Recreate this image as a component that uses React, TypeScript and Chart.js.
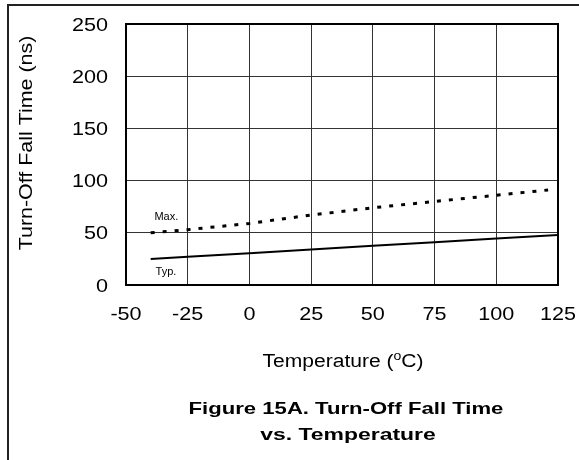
import React, { useEffect, useRef } from "react";
import { Chart, registerables } from "chart.js";

Chart.register(...registerables);

const typTemperatures = [-40, -25, 0, 25, 50, 75, 100, 125];
const typFallTime = [25, 27, 30.5, 34, 37.5, 41, 44.5, 48];
const maxTemperatures = [-40, -25, 0, 25, 50, 75, 100, 121];
const maxFallTime = [50, 53, 59, 67, 74, 80, 86, 91];
const xTickValues = [-50, -25, 0, 25, 50, 75, 100, 125];
const yTickValues = [0, 50, 100, 150, 200, 250];
const seriesNames = ["Max.", "Typ."];
const yAxisTitle = "Turn-Off Fall Time (ns)";
const xAxisTitleParts = ["Temperature (", "o", "C)"];
const captionLines = ["Figure 15A. Turn-Off Fall Time", "vs. Temperature"];

const FONT = '"Liberation Sans", Arial, Helvetica, sans-serif';

// draw text stretched horizontally by sx, anchored at (x, y)
function drawStretched(
  ctx: any,
  text: string,
  x: number,
  y: number,
  font: string,
  sx: number,
  align: "left" | "center" | "right",
  baseline: "alphabetic" | "middle" = "alphabetic",
  rotate = 0
) {
  ctx.save();
  ctx.translate(x, y);
  if (rotate) ctx.rotate(rotate);
  ctx.scale(sx, 1);
  ctx.font = font;
  ctx.textAlign = align;
  ctx.textBaseline = baseline;
  ctx.fillStyle = "#000";
  ctx.fillText(text, 0, 0);
  ctx.restore();
}

const textPlugin = {
  id: "customTexts",
  afterDraw(chart: any) {
    const ctx = chart.ctx;
    const area = chart.chartArea;
    const xs = chart.scales.x;
    const ys = chart.scales.y;

    // plot frame
    ctx.save();
    ctx.strokeStyle = "#000";
    ctx.lineWidth = 2;
    ctx.strokeRect(area.left, area.top, area.right - area.left, area.bottom - area.top);
    ctx.restore();

    const tickFont = `18px ${FONT}`;
    // x tick labels
    xTickValues.forEach((v) => {
      drawStretched(ctx, String(v), xs.getPixelForValue(v), area.bottom + 35, tickFont, 1.2, "center");
    });
    // y tick labels
    yTickValues.forEach((v) => {
      drawStretched(ctx, String(v), area.left - 18, ys.getPixelForValue(v) + 6.6, tickFont, 1.2, "right");
    });

    // series labels
    ctx.save();
    ctx.fillStyle = "#000";
    ctx.font = `11px ${FONT}`;
    ctx.textAlign = "left";
    ctx.textBaseline = "alphabetic";
    ctx.fillText(seriesNames[0], xs.getPixelForValue(-38.5), ys.getPixelForValue(62.3));
    ctx.fillText(seriesNames[1], xs.getPixelForValue(-38), ys.getPixelForValue(9.6));
    ctx.restore();

    const cx = (area.left + area.right) / 2;

    // y axis title
    drawStretched(
      ctx,
      yAxisTitle,
      area.left - 99,
      (area.top + area.bottom) / 2 - 11.5,
      `18px ${FONT}`,
      1.19,
      "center",
      "middle",
      -Math.PI / 2
    );

    // x axis title with superscript
    const sxT = 1.17;
    const big = `18px ${FONT}`;
    const small = `12px ${FONT}`;
    ctx.save();
    ctx.font = big;
    const w0 = ctx.measureText(xAxisTitleParts[0]).width * sxT;
    const w2 = ctx.measureText(xAxisTitleParts[2]).width * sxT;
    ctx.font = small;
    const w1 = ctx.measureText(xAxisTitleParts[1]).width * sxT;
    ctx.restore();
    const total = w0 + w1 + w2;
    const base = area.bottom + 81.7;
    let x0 = cx - total / 2 + 1;
    drawStretched(ctx, xAxisTitleParts[0], x0, base, big, sxT, "left");
    x0 += w0;
    drawStretched(ctx, xAxisTitleParts[1], x0, base - 6.5, small, sxT, "left");
    x0 += w1;
    drawStretched(ctx, xAxisTitleParts[2], x0, base, big, sxT, "left");

    // caption
    drawStretched(ctx, captionLines[0], cx + 4, area.bottom + 129, `bold 17px ${FONT}`, 1.3, "center");
    drawStretched(ctx, captionLines[1], cx + 6, area.bottom + 155, `bold 17px ${FONT}`, 1.35, "center");
  },
};

export default function App() {
  const canvasRef = useRef<HTMLCanvasElement | null>(null);

  useEffect(() => {
    const canvas = canvasRef.current;
    if (!canvas) return;
    const chart = new Chart(canvas, {
      type: "line",
      data: {
        datasets: [
          {
            label: seriesNames[0],
            data: maxTemperatures.map((t, i) => ({ x: t, y: maxFallTime[i] })),
            borderColor: "#000",
            borderWidth: 3,
            borderDash: [4, 8],
            pointRadius: 0,
            fill: false,
            tension: 0,
          },
          {
            label: seriesNames[1],
            data: typTemperatures.map((t, i) => ({ x: t, y: typFallTime[i] })),
            borderColor: "#000",
            borderWidth: 2,
            pointRadius: 0,
            fill: false,
            tension: 0,
          },
        ],
      },
      options: {
        responsive: false,
        animation: false,
        devicePixelRatio: 1,
        layout: { padding: { left: 0, right: 21, top: 24, bottom: 0 } },
        plugins: {
          legend: { display: false },
          tooltip: { enabled: false },
          title: { display: false },
        },
        scales: {
          x: {
            type: "linear",
            min: xTickValues[0],
            max: xTickValues[xTickValues.length - 1],
            afterBuildTicks: (scale: any) => {
              scale.ticks = xTickValues.map((v) => ({ value: v }));
            },
            afterFit: (scale: any) => {
              scale.height = 175;
            },
            grid: { color: "#333", lineWidth: 1, drawTicks: false },
            border: { display: true, color: "#000", width: 2 },
            ticks: { display: false, autoSkip: false },
          },
          y: {
            type: "linear",
            min: yTickValues[0],
            max: yTickValues[yTickValues.length - 1],
            afterBuildTicks: (scale: any) => {
              scale.ticks = yTickValues.map((v) => ({ value: v }));
            },
            afterFit: (scale: any) => {
              scale.width = 126;
            },
            grid: { color: "#333", lineWidth: 1, drawTicks: false },
            border: { display: true, color: "#000", width: 2 },
            ticks: { display: false, autoSkip: false },
          },
        },
      },
      plugins: [textPlugin],
    } as any);
    return () => chart.destroy();
  }, []);

  return (
    <div style={{ position: "absolute", left: 0, top: 0, width: 579, height: 460, background: "#fff", overflow: "hidden" }}>
      <div
        style={{
          position: "absolute",
          left: 7,
          top: 4,
          width: 600,
          height: 500,
          borderTop: "2px solid #222",
          borderLeft: "2px solid #222",
        }}
      />
      <canvas ref={canvasRef} width={579} height={460} style={{ position: "absolute", left: 0, top: 0, width: 579, height: 460 }} />
    </div>
  );
}
